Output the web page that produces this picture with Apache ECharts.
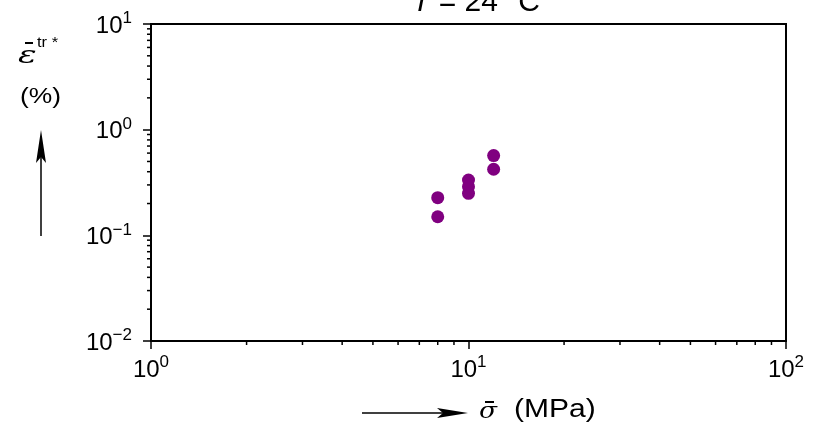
<!DOCTYPE html>
<html><head><meta charset="utf-8">
<script src="https://cdn.jsdelivr.net/npm/echarts@6/dist/echarts.min.js"></script>
<style>html,body{margin:0;padding:0;background:#fff}#c{width:823px;height:426px}</style>
</head><body><div id="c"></div>
<script>
// Data
const stressMPa = [8, 8, 10, 10, 10, 12, 12];
const strainPct = [0.227, 0.150, 0.334, 0.289, 0.250, 0.568, 0.422];
const xMinorTicks = [2,3,4,5,6,7,8,9,20,30,40,50,60,70,80,90];
const yMinorTicks = [0.02,0.03,0.04,0.05,0.06,0.07,0.08,0.09,0.2,0.3,0.4,0.5,0.6,0.7,0.8,0.9,2,3,4,5,6,7,8,9];
const titleText = '{i|T} = 24 °C';

const FONT = '"Liberation Sans", Arial, sans-serif';
const SERIF = '"DejaVu Serif", "Liberation Serif", serif';
const chart = echarts.init(document.getElementById('c'));
function expLabel(v){
  const e = Math.round(Math.log10(v));
  const s = e < 0 ? '\u2212' + (-e) : String(e);
  return '{b|10}{s|' + s + '}';
}
const richLbl = {
  b: {fontSize: 24, fontFamily: FONT, color: '#000', verticalAlign: 'bottom', lineHeight: 28},
  s: {fontSize: 17, fontFamily: FONT, color: '#000', verticalAlign: 'top', lineHeight: 28, padding: [0,0,13,0]}
};
const pts = stressMPa.map((x,i)=>[x, strainPct[i]]);
chart.setOption({
  animation: false,
  backgroundColor: '#fff',
  title: {
    text: titleText, left: 471, textAlign: 'center', top: -17,
    textStyle: {fontSize: 30, fontWeight: 'normal', fontFamily: FONT, color: '#000',
      rich: {i: {fontSize: 30, fontStyle: 'italic', fontFamily: FONT, color: '#000'}}}
  },
  grid: {left: 151, right: 37, top: 24, bottom: 85, show: true, borderColor: '#000', borderWidth: 2},
  xAxis: {
    type: 'log', logBase: 10, min: 1, max: 100,
    axisLine: {lineStyle: {color: '#000', width: 2}},
    axisTick: {inside: false, length: 8, lineStyle: {color: '#000', width: 1.5}},
    splitLine: {show: false}, minorTick: {show: false},
    axisLabel: {margin: 13, formatter: expLabel, rich: richLbl}
  },
  yAxis: {
    type: 'log', logBase: 10, min: 0.01, max: 10,
    axisLine: {lineStyle: {color: '#000', width: 2}},
    axisTick: {inside: false, length: 8, lineStyle: {color: '#000', width: 1.5}},
    splitLine: {show: false}, minorTick: {show: false},
    axisLabel: {margin: 19, formatter: expLabel, rich: richLbl}
  },
  series: [
    {
      type: 'scatter', data: pts, symbolSize: 13,
      itemStyle: {color: '#800080', opacity: 1}
    },
    {
      type: 'custom', silent: true, clip: false, data: xMinorTicks,
      renderItem: function(params, api){
        const p = api.coord([api.value(0), 0.01]);
        return {type: 'line', shape: {x1: p[0], y1: p[1], x2: p[0], y2: p[1] + 4},
          style: {stroke: '#000', lineWidth: 1.5}};
      },
      encode: {x: 0}
    },
    {
      type: 'custom', silent: true, clip: false, data: yMinorTicks,
      renderItem: function(params, api){
        const p = api.coord([1, api.value(0)]);
        return {type: 'line', shape: {x1: p[0] - 4, y1: p[1], x2: p[0], y2: p[1]},
          style: {stroke: '#000', lineWidth: 1.5}};
      },
      encode: {y: 0}
    }
  ],
  graphic: [
    // y-axis label
    {type: 'text', x: 18, y: 57, scaleX: 1.45, style: {text: '\u03B5', fontSize: 24, fontStyle: 'italic', fontFamily: SERIF, fill: '#000', align: 'left', verticalAlign: 'middle'}},
    {type: 'line', shape: {x1: 25, y1: 43, x2: 33, y2: 43}, style: {stroke: '#000', lineWidth: 2}},
    {type: 'text', x: 37, y: 43, scaleX: 1.1, style: {text: 'tr *', fontSize: 15, fontFamily: FONT, fill: '#000', align: 'left', verticalAlign: 'middle'}},
    {type: 'text', x: 20, y: 97, scaleX: 1.2, style: {text: '(%)', fontSize: 22, fontFamily: FONT, fill: '#000', align: 'left', verticalAlign: 'middle'}},
    {type: 'line', shape: {x1: 41, y1: 236, x2: 41, y2: 150}, style: {stroke: '#000', lineWidth: 1.5}},
    {type: 'polygon', shape: {points: [[41,130],[46,163],[41,157],[36,163]]}, style: {fill: '#000'}},
    // x-axis label
    {type: 'line', shape: {x1: 362, y1: 413, x2: 450, y2: 413}, style: {stroke: '#000', lineWidth: 1.5}},
    {type: 'polygon', shape: {points: [[468,413],[437,408],[443,413],[437,418]]}, style: {fill: '#000'}},
    {type: 'text', x: 479, y: 412, scaleX: 1.2, style: {text: '\u03C3', fontSize: 22, fontStyle: 'italic', fontFamily: SERIF, fill: '#000', align: 'left', verticalAlign: 'middle'}},
    {type: 'line', shape: {x1: 485, y1: 402, x2: 494, y2: 402}, style: {stroke: '#000', lineWidth: 2}},
    {type: 'text', x: 514, y: 410, scaleX: 1.2, style: {text: '(MPa)', fontSize: 25, fontFamily: FONT, fill: '#000', align: 'left', verticalAlign: 'middle'}}
  ]
});
</script></body></html>
